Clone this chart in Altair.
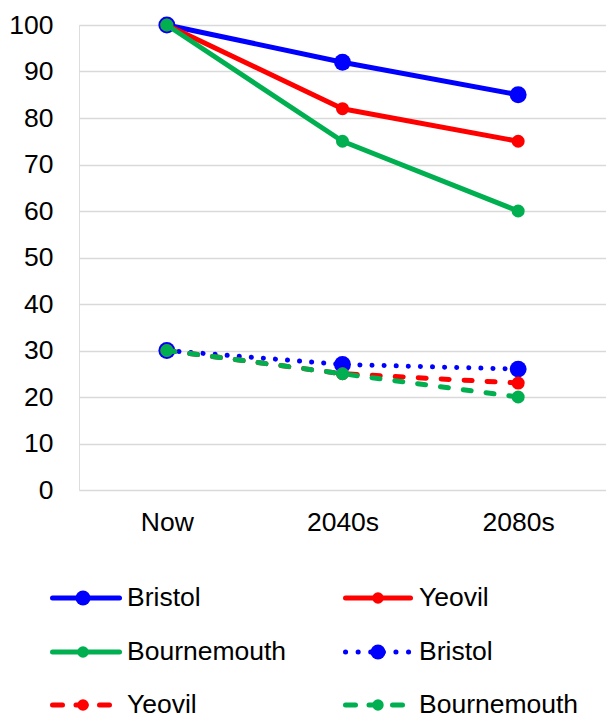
import altair as alt
import pandas as pd

# Categories and series values
periods = ["Now", "2040s", "2080s"]

bristol_upper = [100, 92, 85]
yeovil_upper = [100, 82, 75]
bournemouth_upper = [100, 75, 60]
bristol_lower = [30, 27, 26]
yeovil_lower = [30, 25, 23]
bournemouth_lower = [30, 25, 20]

series_labels = ["Bristol", "Yeovil", "Bournemouth", "Bristol", "Yeovil", "Bournemouth"]
series_values = [bristol_upper, yeovil_upper, bournemouth_upper,
                 bristol_lower, yeovil_lower, bournemouth_lower]

# Styling
BLUE, RED, GREEN = "#0000FF", "#FF0000", "#00B050"
FONT = "Liberation Sans"
FS = 26.5
DOT = [0.1, 12]
DASH = [8, 15]
LEG_DOT = [0.1, 12.5]
LEG_DASH = [10, 13.5]
styles = [
    dict(color=BLUE, dash=None, ldash=None, size=285, lsize=225),
    dict(color=RED, dash=None, ldash=None, size=170, lsize=135),
    dict(color=GREEN, dash=None, ldash=None, size=170, lsize=135),
    dict(color=BLUE, dash=DOT, ldash=LEG_DOT, size=285, lsize=225),
    dict(color=RED, dash=DASH, ldash=LEG_DASH, size=170, lsize=135),
    dict(color=GREEN, dash=DASH, ldash=LEG_DASH, size=170, lsize=130),
]

W, H = 527, 465

x_enc = alt.X(
    "period:O", sort=periods,
    scale=alt.Scale(type="point", padding=0.5),
    axis=alt.Axis(title=None, labelAngle=0, ticks=False, domain=False, grid=False,
                  labelFontSize=FS, labelFont=FONT, labelColor="black", labelPadding=19),
)
y_enc = alt.Y(
    "value:Q",
    scale=alt.Scale(domain=[0, 100], nice=False),
    axis=alt.Axis(title=None, values=list(range(0, 101, 10)), ticks=False, domain=False,
                  grid=True, gridColor="#d9d9d9", gridWidth=1.5,
                  labelFontSize=FS, labelFont=FONT, labelColor="black", labelPadding=26),
)

series_layers = []
for vals, st in zip(series_values, styles):
    df = pd.DataFrame({"period": periods, "value": vals})
    line_kw = dict(color=st["color"], strokeWidth=5, strokeCap="round", strokeJoin="round")
    if st["dash"] is not None:
        line_kw["strokeDash"] = st["dash"]
    line = alt.Chart(df).mark_line(**line_kw).encode(x=x_enc, y=y_enc)
    pts = alt.Chart(df).mark_circle(size=st["size"], color=st["color"], opacity=1).encode(
        x=x_enc, y=y_enc)
    series_layers += [line, pts]

main = alt.layer(*series_layers)

# Legend below the plot: two columns by three rows, in pixel units from the plot origin
row_y = [573, 627, 680]
col_line = [(-26.5, 40.5), (266.5, 331.5)]
col_marker = [4, 299]
col_text = [48, 340]

lx = alt.Scale(domain=[0, W], nice=False, zero=False)
ly = alt.Scale(domain=[0, H], nice=False, zero=False, reverse=True)

legend_layers = []
for i, (label, st) in enumerate(zip(series_labels, styles)):
    c, r = i % 2, i // 2
    x0, x1 = col_line[c]
    row = pd.DataFrame([{"x0": x0, "x1": x1, "xm": col_marker[c], "xt": col_text[c],
                         "y": row_y[r], "label": label}])
    rule_kw = dict(color=st["color"], strokeWidth=5, strokeCap="round")
    if st["ldash"] is not None:
        rule_kw["strokeDash"] = st["ldash"]
    rule = alt.Chart(row).mark_rule(**rule_kw).encode(
        x=alt.X("x0:Q", scale=lx, axis=None), x2="x1:Q",
        y=alt.Y("y:Q", scale=ly, axis=None))
    dot = alt.Chart(row).mark_circle(size=st["lsize"], color=st["color"], opacity=1).encode(
        x=alt.X("xm:Q", scale=lx, axis=None), y=alt.Y("y:Q", scale=ly, axis=None))
    txt = alt.Chart(row).mark_text(align="left", baseline="middle", font=FONT,
                                   fontSize=FS, color="black").encode(
        x=alt.X("xt:Q", scale=lx, axis=None), y=alt.Y("y:Q", scale=ly, axis=None),
        text="label:N")
    legend_layers += [rule, dot, txt]

legend = alt.layer(*legend_layers)

chart = (
    alt.layer(main, legend)
    .resolve_scale(x="independent", y="independent")
    .properties(
        width=W, height=H,
        autosize=alt.AutoSizeParams(type="none"),
        padding={"left": 79, "top": 25, "right": 0, "bottom": 225},
    )
    .configure_view(stroke=None)
    .configure(background="white")
)

chart.save("out.html", embed_options={"renderer": "svg", "actions": False})
